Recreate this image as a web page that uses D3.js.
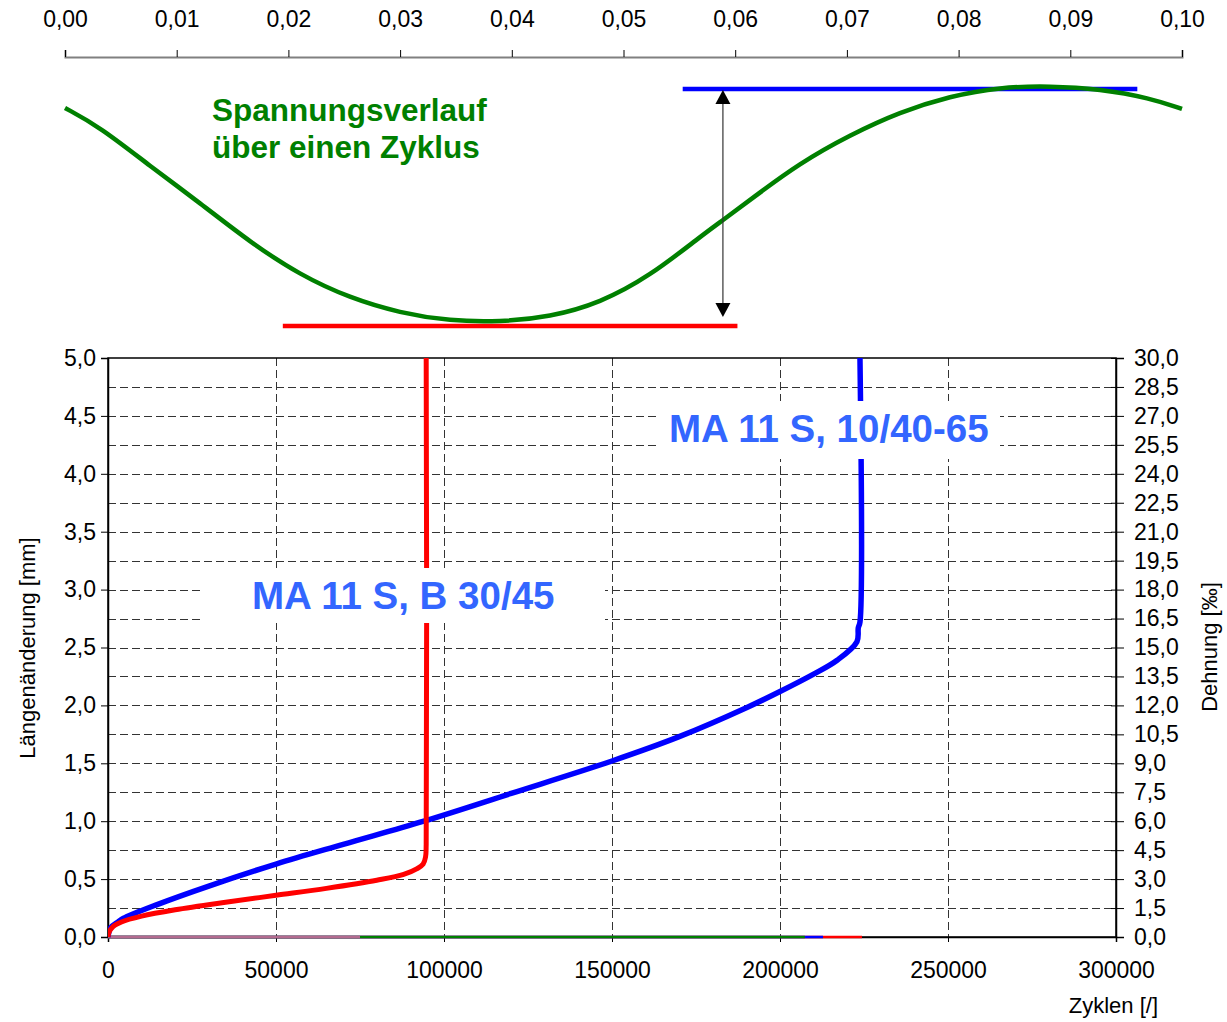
<!DOCTYPE html>
<html><head><meta charset="utf-8">
<script src="https://cdn.jsdelivr.net/npm/d3@7"></script>
<style>
body{margin:0;background:#fff}
text{font-family:"Liberation Sans",Arial,sans-serif}
</style>
</head><body>
<svg id="c" width="1227" height="1022"></svg>
<script>
// ---------- DATA ----------
// Top: stress over one cycle (time in s, relative stress 0 = min line, 1 = max line)
const stressTime  = [0, 0.00313, 0.00761, 0.01209, 0.01656, 0.02104, 0.02551, 0.02999, 0.03447, 0.03894, 0.04342, 0.0479, 0.05237, 0.05685, 0.05891, 0.06132, 0.0658, 0.07028, 0.07475, 0.07923, 0.08371, 0.08818, 0.09266, 0.09713, 0.1];
const stressValue = [0.92, 0.840, 0.675, 0.519, 0.354, 0.215, 0.118, 0.055, 0.021, 0.017, 0.038, 0.097, 0.211, 0.376, 0.447, 0.532, 0.688, 0.806, 0.903, 0.970, 1.008, 1.013, 1.0, 0.962, 0.916];
const maxLineTime = [0.0553, 0.0960];
const minLineTime = [0.0195, 0.0602];
const maxLineValue = 1.0;
const minLineValue = 0.0;
const arrowTime = 0.0589;
const arrowValues = [1.0, 0.038];
const topTicks = [0, 0.01, 0.02, 0.03, 0.04, 0.05, 0.06, 0.07, 0.08, 0.09, 0.10];

// Bottom: length change [mm] vs cycles
const cyclesRed  = [0, 300, 1500, 4000, 10000, 20000, 35000, 50000, 65000, 80000, 88000, 92000, 93800, 94500, 94700, 94700];
const lengthRed  = [0, 0.04, 0.09, 0.13, 0.18, 0.235, 0.30, 0.36, 0.42, 0.49, 0.54, 0.59, 0.63, 0.69, 0.80, 5.0];
const cyclesBlue = [0, 800, 3000, 4500, 14600, 30000, 50000, 70000, 94000, 120000, 150000, 170000, 190000, 200000, 210000, 217000, 222900, 223300, 223800, 223800];
const lengthBlue = [0, 0.08, 0.13, 0.16, 0.28, 0.44, 0.63, 0.80, 1.0, 1.24, 1.52, 1.73, 1.98, 2.12, 2.27, 2.39, 2.55, 2.67, 2.72, 5.0];
// other series lying on the zero line (end cycle of each)
const zeroSeriesEnd = [224400, 212800, 207400, 75000];

const xTicks = [0, 50000, 100000, 150000, 200000, 250000, 300000];
const yLeftTicks = [0, 0.5, 1.0, 1.5, 2.0, 2.5, 3.0, 3.5, 4.0, 4.5, 5.0];
const yRightTicks = [0, 1.5, 3, 4.5, 6, 7.5, 9, 10.5, 12, 13.5, 15, 16.5, 18, 19.5, 21, 22.5, 24, 25.5, 27, 28.5, 30];
const yGridValues = [0.25, 0.5, 0.75, 1.0, 1.25, 1.5, 1.75, 2.0, 2.25, 2.5, 2.75, 3.0, 3.25, 3.5, 3.75, 4.0, 4.25, 4.5, 4.75];
const xGridValues = [50000, 100000, 150000, 200000, 250000];

const labelStress = ["Spannungsverlauf", "über einen Zyklus"];
const labelRed = "MA 11 S, B 30/45";
const labelBlue = "MA 11 S, 10/40-65";
const yLeftTitle = "Längenänderung [mm]";
const yRightTitle = "Dehnung [‰]";
const xTitle = "Zyklen [/]";

// ---------- STYLE / LAYOUT ----------
const RED = "#ff0000", BLUE = "#0000ff", GREEN = "#008000", LBLUE = "#3366ff", MAUVE = "#b36b8f";
const zeroColors = [RED, BLUE, GREEN, MAUVE];
const de = d3.formatLocale({decimal: ",", thousands: "", grouping: [3], currency: ["", "€"]});
const fontFam = '"Liberation Sans",Arial,sans-serif';

const svg = d3.select("#c");
const P = {l: 108, r: 1116, t: 358, b: 937};

// ---------- TOP CHART ----------
const xTop = d3.scaleLinear().domain([0, 0.1]).range([65, 1182]);
const yStress = d3.scaleLinear().domain([0, 1]).range([326, 89]);

const topAx = svg.append("g").attr("transform", "translate(0,57)")
  .call(d3.axisTop(xTop).tickValues(topTicks).tickSize(7).tickPadding(23).tickFormat(de.format(".2f")));
topAx.select(".domain").attr("stroke", "#808080").attr("stroke-width", 2);
topAx.selectAll(".tick line").attr("stroke", "#000");
topAx.selectAll("text").attr("font-size", 23).attr("fill", "#000").style("font-family", fontFam);

// reference lines
svg.append("line").attr("x1", xTop(maxLineTime[0])).attr("x2", xTop(maxLineTime[1]))
  .attr("y1", yStress(maxLineValue)).attr("y2", yStress(maxLineValue))
  .attr("stroke", BLUE).attr("stroke-width", 4.5);
svg.append("line").attr("x1", xTop(minLineTime[0])).attr("x2", xTop(minLineTime[1]))
  .attr("y1", yStress(minLineValue)).attr("y2", yStress(minLineValue))
  .attr("stroke", RED).attr("stroke-width", 4.5);

// green stress curve
const stressData = stressTime.map((t, i) => [t, stressValue[i]]);
svg.append("path").datum(stressData)
  .attr("d", d3.line().x(d => xTop(d[0])).y(d => yStress(d[1])).curve(d3.curveBasis))
  .attr("fill", "none").attr("stroke", GREEN).attr("stroke-width", 4.5).attr("stroke-linejoin", "round");

// double arrow
const ax = xTop(arrowTime), ay1 = yStress(arrowValues[0]) + 1, ay2 = yStress(arrowValues[1]);
const hw = 7.5, hh = 14;
svg.append("line").attr("x1", ax).attr("x2", ax).attr("y1", ay1 + hh).attr("y2", ay2 - hh)
  .attr("stroke", "#333").attr("stroke-width", 1.2);
svg.append("path").attr("d", `M${ax},${ay1} L${ax - hw},${ay1 + hh} L${ax + hw},${ay1 + hh} Z`).attr("fill", "#000");
svg.append("path").attr("d", `M${ax},${ay2} L${ax - hw},${ay2 - hh} L${ax + hw},${ay2 - hh} Z`).attr("fill", "#000");

// green label
const gl = svg.append("text").attr("x", 212).attr("y", 121).attr("fill", GREEN)
  .attr("font-size", 31.5).attr("font-weight", "bold");
labelStress.forEach((s, i) => gl.append("tspan").attr("x", 212).attr("dy", i ? 37 : 0).text(s));

// ---------- BOTTOM CHART ----------
const x = d3.scaleLinear().domain([0, 300000]).range([P.l, P.r]);
const y = d3.scaleLinear().domain([0, 5]).range([P.b, P.t]);
const yR = d3.scaleLinear().domain([0, 30]).range([P.b, P.t]);

// grid
svg.append("g").selectAll("line").data(yGridValues).join("line")
  .attr("x1", P.l).attr("x2", P.r).attr("y1", d => Math.round(y(d)) + 0.5).attr("y2", d => Math.round(y(d)) + 0.5)
  .attr("stroke", "#333").attr("stroke-width", 1).attr("stroke-dasharray", "8,4");
svg.append("g").selectAll("line").data(xGridValues).join("line")
  .attr("y1", P.t).attr("y2", P.b).attr("x1", d => Math.round(x(d)) + 0.5).attr("x2", d => Math.round(x(d)) + 0.5)
  .attr("stroke", "#333").attr("stroke-width", 1).attr("stroke-dasharray", "8,4");

// frame
svg.append("rect").attr("x", P.l).attr("y", P.t).attr("width", P.r - P.l).attr("height", P.b - P.t)
  .attr("fill", "none").attr("stroke", "#000").attr("stroke-width", 1.5);

// axes
const axL = svg.append("g").attr("transform", `translate(${P.l},0)`)
  .call(d3.axisLeft(y).tickValues(yLeftTicks).tickSize(7).tickPadding(5).tickFormat(de.format(".1f")));
const axR = svg.append("g").attr("transform", `translate(${P.r},0)`)
  .call(d3.axisRight(yR).tickValues(yRightTicks).tickSize(8).tickPadding(10).tickFormat(de.format(".1f")));
axR.selectAll(".tick line").attr("x1", -5);
const axB = svg.append("g").attr("transform", `translate(0,${P.b})`)
  .call(d3.axisBottom(x).tickValues(xTicks).tickSize(5).tickPadding(20).tickFormat(d3.format("d")));
[axL, axR, axB].forEach(g => {
  g.select(".domain").attr("stroke", "#000").attr("stroke-width", 1.5);
  g.selectAll(".tick line").attr("stroke", "#000");
  g.selectAll("text").attr("font-size", 23).attr("fill", "#000").style("font-family", fontFam);
});

// zero-line series
zeroSeriesEnd.forEach((e, i) => {
  svg.append("line").attr("x1", x(0)).attr("x2", x(e)).attr("y1", y(0)).attr("y2", y(0))
    .attr("stroke", zeroColors[i]).attr("stroke-width", 2.5);
});

const line = d3.line().x(d => x(d[0])).y(d => y(d[1])).curve(d3.curveCatmullRom.alpha(0.5));
svg.append("clipPath").attr("id", "pc").append("rect")
  .attr("x", P.l).attr("y", P.t).attr("width", P.r - P.l).attr("height", P.b - P.t + 3);
svg.append("path").datum(cyclesBlue.map((c, i) => [c, lengthBlue[i]]))
  .attr("d", line).attr("fill", "none").attr("stroke", BLUE).attr("stroke-width", 5.5)
  .attr("stroke-linejoin", "round").attr("clip-path", "url(#pc)");
svg.append("path").datum(cyclesRed.map((c, i) => [c, lengthRed[i]]))
  .attr("d", line).attr("fill", "none").attr("stroke", RED).attr("stroke-width", 5)
  .attr("stroke-linejoin", "round").attr("clip-path", "url(#pc)");

// labels with white boxes
svg.append("rect").attr("x", 660).attr("y", 401).attr("width", 340).attr("height", 58).attr("fill", "#fff");
svg.append("text").attr("x", 669).attr("y", 442).attr("fill", LBLUE).attr("font-size", 38.5).attr("font-weight", "bold").text(labelBlue);
svg.append("rect").attr("x", 203).attr("y", 568).attr("width", 402).attr("height", 55).attr("fill", "#fff");
svg.append("text").attr("x", 252).attr("y", 609).attr("fill", LBLUE).attr("font-size", 38.5).attr("font-weight", "bold").text(labelRed);

// axis titles
svg.append("text").attr("transform", "translate(35,648) rotate(-90)").attr("text-anchor", "middle")
  .attr("font-size", 22).text(yLeftTitle);
svg.append("text").attr("transform", "translate(1217,647) rotate(-90)").attr("text-anchor", "middle")
  .attr("font-size", 22).text(yRightTitle);
svg.append("text").attr("x", 1158).attr("y", 1013).attr("text-anchor", "end")
  .attr("font-size", 22).text(xTitle);
</script>
</body></html>
